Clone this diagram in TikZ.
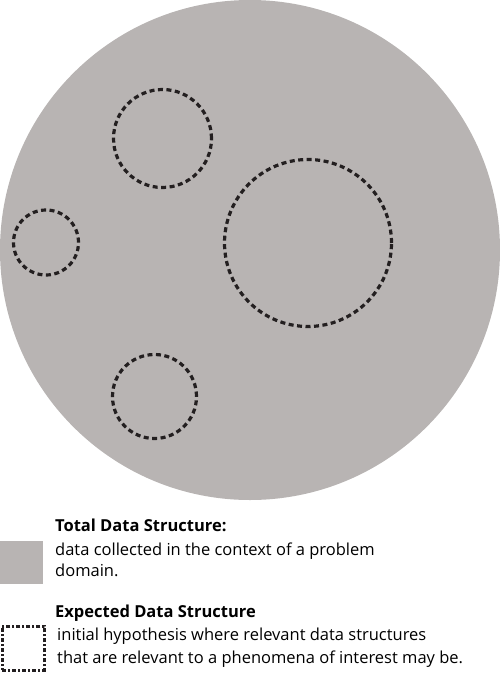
\documentclass[tikz,border=0pt]{standalone}
\usepackage{fontspec}
\setmainfont{Open Sans}
\usetikzlibrary{positioning}
\definecolor{domaingray}{HTML}{B8B4B3}
\definecolor{hypodark}{HTML}{231F20}
\tikzset{
  total/.style={circle,fill=domaingray,inner sep=0pt,minimum size=#1},
  expected/.style={circle,draw=hypodark,line width=3.2pt,dash pattern=on 5pt off 3.5pt,inner sep=0pt,minimum size=#1},
  legtitle/.style={anchor=base west,inner sep=0pt,font=\bfseries\fontsize{16.5}{18}\selectfont},
  legtext/.style={anchor=base west,inner sep=0pt,align=left,font=\fontsize{16.5}{#1}\selectfont},
}
\begin{document}
\begin{tikzpicture}[x=1pt,y=-1pt]%%%data structures
\useasboundingbox (0,0) rectangle (500,677);
\node[total=500pt] (domain) at (250,250) {};
\node[expected=98pt] (hypA) at (162.5,138.5) {};
\node[expected=167pt] (hypB) at (308,243) {};
\node[expected=65pt] (hypC) at (46,242.5) {};
\node[expected=84pt] (hypD) at (154.5,396.5) {};
% legend
\node[fill=domaingray,inner sep=0pt,minimum size=43pt,anchor=north west] (totalkey) at (0,541) {};
\node[draw=hypodark,line width=2.6pt,dash pattern=on 4pt off 2pt on 2pt off 2pt,inner sep=0pt,minimum width=42pt,minimum height=44pt,anchor=north west] (expkey) at (1,625) {};
\node[legtitle] (totaltitle) at (55,531) {Total Data Structure:};
\node[legtext=21pt] (totaltext) at (55,576) {data collected in the context of a problem\\domain.};
\node[legtitle] (exptitle) at (55,617) {Expected Data Structure};
\node[legtext=23pt] (exptext) at (57,663) {initial hypothesis where relevant data structures\\that are relevant to a phenomena of interest may be.};
\end{tikzpicture}
\end{document}
